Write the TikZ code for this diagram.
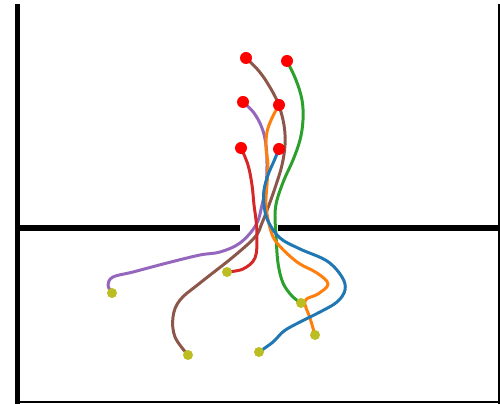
\documentclass[tikz,border=0pt]{standalone}
\begin{document}
\begin{tikzpicture}[x=0.02cm,y=-0.02cm,
  wall/.style={line width=3.2pt,black},
  thinwall/.style={line width=1.2pt,black},
  traj/.style={line width=1.7pt,line cap=round,line join=round},
  startdot/.style={circle,fill={rgb,255:red,255;green,0;blue,0},inner sep=0pt,minimum size=0.24cm},
  enddot/.style={circle,fill=olive,inner sep=0pt,minimum size=0.2cm}]
\definecolor{tblue}{HTML}{1F77B4}
\definecolor{torange}{HTML}{FF7F0E}
\definecolor{tgreen}{HTML}{2CA02C}
\definecolor{tred}{HTML}{D62728}
\definecolor{tpurple}{HTML}{9467BD}
\definecolor{tbrown}{HTML}{8C564B}
\definecolor{olive}{HTML}{BCBD22}
\useasboundingbox (0,0) rectangle (500,404);
% walls
\coordinate (lt) at (17.5,4);
\coordinate (lb) at (17.5,404);
\coordinate (hl1) at (17.5,228);
\coordinate (hl2) at (240,228);
\coordinate (hr1) at (278,228);
\coordinate (hr2) at (500,228);
\coordinate (rt) at (499,4);
\coordinate (rb) at (499,404);
\coordinate (bl) at (17.5,402);
\coordinate (br) at (500,402);
\draw[wall] (lt) -- (lb);
\draw[wall] (hl1) -- (hl2);
\draw[wall] (hr1) -- (hr2);
\draw[thinwall] (rt) -- (rb);
\draw[thinwall] (bl) -- (br);
% start / end coordinates
\coordinate (sb) at (246,58);  \coordinate (eb) at (188,355);
\coordinate (sg) at (287,61);  \coordinate (eg) at (301,303);
\coordinate (sp) at (243,102); \coordinate (ep) at (112,293);
\coordinate (so) at (279,105); \coordinate (eo) at (315,335);
\coordinate (sr) at (241,148); \coordinate (er) at (227,272);
\coordinate (su) at (279,149); \coordinate (eu) at (259,352);
% trajectories
\draw[traj,tbrown] plot[smooth,tension=0.6] coordinates {(sb) (258,70) (268,84) (278,103) (284,125) (285,145) (282,165) (276,185) (269,205) (262,223) (255,237) (233,257) (200,283) (180,300) (173,317) (175,337) (eb)};
\draw[traj,tgreen] plot[smooth,tension=0.6] coordinates {(sg) (296,80) (302,100) (303,120) (300,140) (293,160) (284,180) (277,200) (275,215) (276,235) (278,263) (283,283) (292,296) (eg)};
\draw[traj,tpurple] plot[smooth,tension=0.6] coordinates {(sp) (254,113) (262,128) (266,145) (267,165) (266,185) (262,205) (256,225) (240,243) (220,252) (200,255) (167,263) (133,272) (113,277) (108,285) (ep)};
\draw[traj,torange] plot[smooth,tension=0.6] coordinates {(so) (272,118) (267,132) (266,148) (268,165) (267,185) (266,205) (270,228) (277,243) (297,262) (317,273) (328,284) (318,294) (305,301) (310,318) (eo)};
\draw[traj,tred] plot[smooth,tension=0.6] coordinates {(sr) (248,165) (252,185) (254,205) (256,220) (257,237) (255,258) (243,269) (er)};
\draw[traj,tblue] plot[smooth,tension=0.6] coordinates {(su) (274,161) (268,175) (264,190) (264,205) (268,221) (280,238) (300,249) (327,261) (342,277) (345,290) (337,302) (320,312) (300,322) (284,331) (273,342) (eu)};
% dots
\node[startdot] (nsb) at (sb) {};
\node[startdot] (nsg) at (sg) {};
\node[startdot] (nsp) at (sp) {};
\node[startdot] (nso) at (so) {};
\node[startdot] (nsr) at (sr) {};
\node[startdot] (nsu) at (su) {};
\node[enddot] (neb) at (eb) {};
\node[enddot] (neg) at (eg) {};
\node[enddot] (nep) at (ep) {};
\node[enddot] (neo) at (eo) {};
\node[enddot] (ner) at (er) {};
\node[enddot] (neu) at (eu) {};
\end{tikzpicture}
\end{document}
